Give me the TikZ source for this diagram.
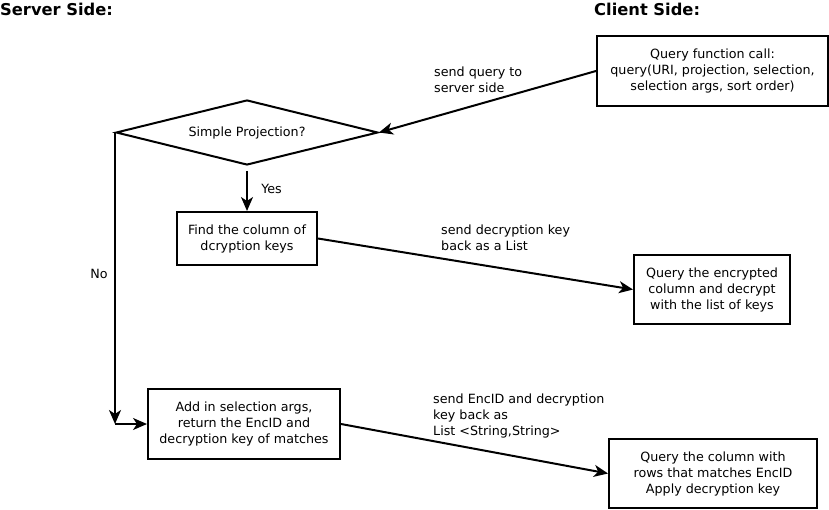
\documentclass[tikz,border=0pt]{standalone}
\usepackage{fontspec}
\setmainfont{DejaVu Sans}
\usetikzlibrary{shapes.geometric,arrows.meta}
\begin{document}
\begin{tikzpicture}[x=1pt,y=-1pt,
  every node/.append style={font=\fontsize{12.7}{16}\selectfont},
  title/.style={anchor=base west,inner sep=0pt,font=\fontsize{16.3}{19}\selectfont\bfseries},
  box/.style={draw,line width=2pt,align=center,inner sep=2pt},
  lbl/.style={align=left,inner sep=0pt,anchor=north west},
  tip/.style={line width=2pt,-{Stealth[length=14pt,width=12pt,inset=4pt]}}]
\useasboundingbox (0,0) rectangle (829,510);
\node [title] (server) at (0,16) {Server Side:};
\node [title] (client) at (594,16) {Client Side:};
\node [box,minimum width=231pt,minimum height=70pt] (query) at (712.5,71) {Query function call:\\query(URI, projection, selection,\\selection args, sort order)};
\node [draw,diamond,line width=2pt,aspect=4,inner sep=0pt,minimum width=262pt,minimum height=65pt] (simple) at (247,132.5) {Simple Projection?};
\node [box,minimum width=140pt,minimum height=53pt] (find) at (247,238.5) {Find the column of\\dcryption keys};
\node [box,minimum width=156pt,minimum height=69pt] (enc) at (712,289.5) {Query the encrypted\\column and decrypt\\with the list of keys};
\node [box,minimum width=192pt,minimum height=70pt] (add) at (244,424) {Add in selection args,\\return the EncID and\\decryption key of matches};
\node [box,minimum width=208pt,minimum height=69pt] (match) at (713,473.5) {Query the column with\\rows that matches EncID\\Apply decryption key};
\node [lbl] (sendq) at (434,67) {send query to\\server side};
\node [lbl] (sendkey) at (441,224.5) {send decryption key\\back as a List};
\node [lbl] (sendid) at (433,394) {send EncID and decryption\\key back as\\List <String,String>};
\coordinate (corner) at (simple.west |- add.west);
\draw [tip] (query.west) -- (simple.east);
\draw [tip,shorten <=5pt] (simple.south) -- node [right=10pt,pos=0.5] (yes) {Yes} (find.north);
\draw [tip] (find.east) -- (enc.west);
\draw [tip] (simple.west) -- node [left=3pt,pos=0.486] (no) {No} (corner);
\draw [tip] (corner) -- (add.west);
\draw [tip] (add.east) -- (match.west);
\end{tikzpicture}
\end{document}
